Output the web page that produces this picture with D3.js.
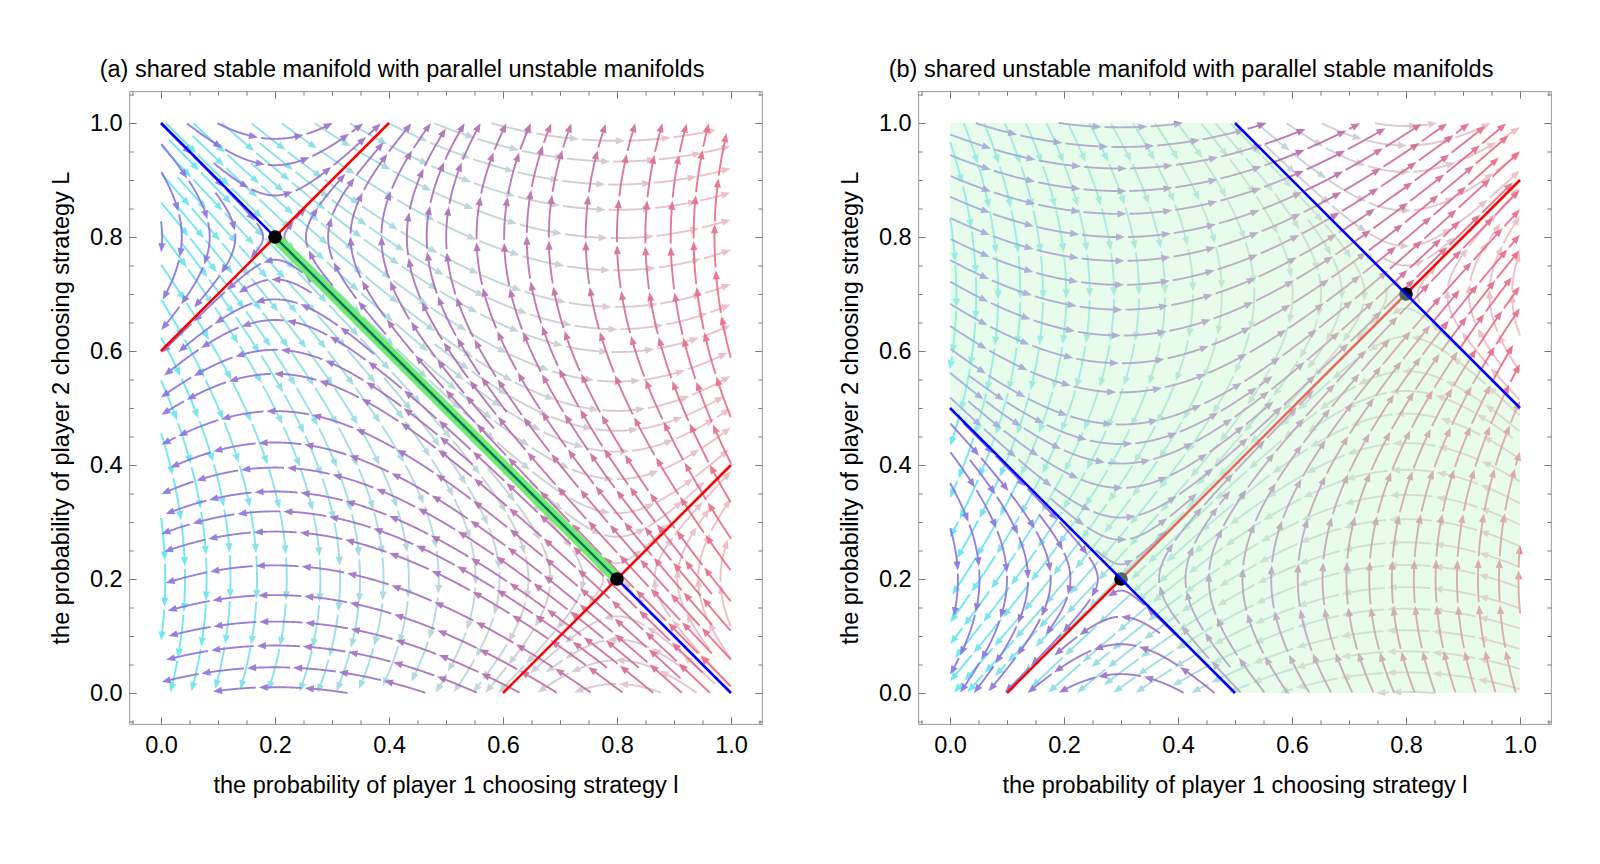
<!DOCTYPE html>
<html>
<head>
<meta charset="utf-8">
<title>stream manifolds</title>
<script src="https://cdn.jsdelivr.net/npm/d3@7"></script>
<style>
  body { margin: 0; background: #fff; }
  svg text { font-family: "Liberation Sans", Arial, Helvetica, sans-serif; }
</style>
</head>
<body>
<svg id="chart" width="1600" height="864"></svg>
<script>
// ---- values ----
const panelTitles = [
    '(a) shared stable manifold with parallel unstable manifolds',
    '(b) shared unstable manifold with parallel stable manifolds'
]
const xTitle = 'the probability of player 1 choosing strategy l'
const yTitle = 'the probability of player 2 choosing strategy L'
const majorTicks = [0, 0.2, 0.4, 0.6, 0.8, 1.0]

// eigen-directions at every saddle
const stableDirection = [1, -1]
const unstableDirection = [1, 1]

// panel (a)
const saddlesA = [[0.2, 0.8], [0.8, 0.2]]
const stableLineA = [[0, 1], [1, 0]]
const sharedSegmentA = [[0.2, 0.8], [0.8, 0.2]]
const unstableLinesA = [
    [[0, 0.6], [0.4, 1]],
    [[0.6, 0], [1, 0.4]]
]

// panel (b)
const saddlesB = [[0.3, 0.2], [0.8, 0.7]]
const unstableLineB = [[0.1, 0], [1, 0.9]]
const stableLinesB = [
    [[0, 0.5], [0.5, 0]],
    [[0.5, 1], [1, 0.5]]
]
const bandB = [[0, 0.5], [0.5, 0], [1, 0], [1, 0.5], [0.5, 1], [0, 1]]

// ---- style ----
const cyanRamp = ['#52e5ef', '#b2d2d6', '#efb4be']
const purpleRamp = ['#8474e6', '#a76db7', '#ef6a80']
const streamOpts = { dsep: 0.034, dtest: 0.017, step: 0.0015, stopR: 0.012, minLen: 0.02 }
const segLen = 46, gap = 3, headLen = 9, headHalf = 3.6
const fontSize = 23.5

const svg = d3.select('#chart')

function unit(v) {
    const m = Math.hypot(v[0], v[1])
    return [v[0] / m, v[1] / m]
}

// linear saddle: contracts along the stable direction, expands along the unstable one
function saddleField(p) {
    const s = unit(stableDirection), u = unit(unstableDirection)
    return (x, y) => {
        const dx = x - p[0], dy = y - p[1]
        const cs = dx * s[0] + dy * s[1]
        const cu = dx * u[0] + dy * u[1]
        return [-cs * s[0] + cu * u[0], -cs * s[1] + cu * u[1]]
    }
}

// evenly spaced streamlines (Jobard-Lefer style)
function evenStreamlines(f, saddle, o) {
    const cell = o.dsep
    const grid = new Map()
    const key = (i, j) => i * 4096 + j
    const lines = []
    const queue = []

    function add(p, id) {
        const k = key(Math.floor(p[0] / cell), Math.floor(p[1] / cell))
        if (!grid.has(k)) grid.set(k, [])
        grid.get(k).push([p[0], p[1], id])
    }
    function near(x, y, r, id) {
        const i0 = Math.floor(x / cell), j0 = Math.floor(y / cell)
        for (let i = i0 - 1; i <= i0 + 1; i++) {
            for (let j = j0 - 1; j <= j0 + 1; j++) {
                const b = grid.get(key(i, j))
                if (!b) continue
                for (const q of b) {
                    if (q[2] !== id && (q[0] - x) ** 2 + (q[1] - y) ** 2 < r * r) return true
                }
            }
        }
        return false
    }
    const inside = (x, y) => x >= 0 && x <= 1 && y >= 0 && y <= 1
    function dir(x, y, sign) {
        const v = f(x, y)
        const m = Math.hypot(v[0], v[1])
        if (m < 1e-9) return null
        return [sign * v[0] / m, sign * v[1] / m]
    }
    function trace(x, y, sign, id) {
        const pts = []
        const h = o.step
        for (let k = 0; k < 3000; k++) {
            const d1 = dir(x, y, sign)
            if (!d1) break
            const d2 = dir(x + d1[0] * h / 2, y + d1[1] * h / 2, sign)
            if (!d2) break
            const nx = x + d2[0] * h, ny = y + d2[1] * h
            if (!inside(nx, ny)) break
            if (Math.hypot(nx - saddle[0], ny - saddle[1]) < o.stopR) break
            if (near(nx, ny, o.dtest, id)) break
            pts.push([nx, ny])
            x = nx; y = ny
        }
        return pts
    }
    function trySeed(x, y) {
        if (!inside(x, y)) return
        if (Math.hypot(x - saddle[0], y - saddle[1]) < o.stopR * 2) return
        if (near(x, y, o.dsep, -1)) return
        const id = lines.length
        const fw = trace(x, y, 1, id)
        const bw = trace(x, y, -1, id)
        const pts = bw.reverse().concat([[x, y]], fw)
        if (pts.length * o.step < o.minLen) return
        lines.push(pts)
        pts.forEach((p, i) => { if (i % 2 === 0) add(p, id) })
        queue.push(pts)
    }
    function drain() {
        while (queue.length) {
            const L = queue.shift()
            for (let k = 0; k < L.length; k += 4) {
                const a = L[Math.max(k - 1, 0)], b = L[Math.min(k + 1, L.length - 1)]
                if (a === b) continue
                const t = unit([b[0] - a[0], b[1] - a[1]])
                const p = L[k]
                trySeed(p[0] - t[1] * o.dsep, p[1] + t[0] * o.dsep)
                trySeed(p[0] + t[1] * o.dsep, p[1] - t[0] * o.dsep)
            }
        }
    }
    trySeed(0.02, 0.5)
    drain()
    for (let x = o.dsep / 2; x < 1; x += o.dsep / 2) {
        for (let y = o.dsep / 2; y < 1; y += o.dsep / 2) {
            trySeed(x, y)
            drain()
        }
    }
    return lines
}

function drawStreams(g, sx, sy, saddle, ramp, opacity) {
    const lines = evenStreamlines(saddleField(saddle), saddle, streamOpts)
    const color = d3.scaleLinear().domain([0, 0.5, 1]).range(ramp).interpolate(d3.interpolateRgb)
    const pieces = []

    lines.forEach(line => {
        const pts = line.map(d => [sx(d[0]), sy(d[1])])
        const s = [0]
        for (let i = 1; i < pts.length; i++) {
            s.push(s[i - 1] + Math.hypot(pts[i][0] - pts[i - 1][0], pts[i][1] - pts[i - 1][1]))
        }
        const total = s[s.length - 1]
        const at = len => {
            let i = d3.bisectLeft(s, len)
            if (i <= 0) return pts[0]
            if (i >= pts.length) return pts[pts.length - 1]
            const t = (len - s[i - 1]) / (s[i] - s[i - 1] || 1)
            return [pts[i - 1][0] + t * (pts[i][0] - pts[i - 1][0]), pts[i - 1][1] + t * (pts[i][1] - pts[i - 1][1])]
        }
        let start = 0
        while (start < total) {
            const end = Math.min(start + segLen - gap, total)
            if (end - start < 12) break
            const lineEnd = end - headLen * 0.7
            const body = [at(start)]
            for (let i = 0; i < pts.length; i++) if (s[i] > start && s[i] < lineEnd) body.push(pts[i])
            body.push(at(lineEnd))
            const tip = at(end), back = at(end - headLen)
            const t = unit([tip[0] - back[0], tip[1] - back[1]])
            const head = [
                tip,
                [back[0] - t[1] * headHalf, back[1] + t[0] * headHalf],
                [back[0] + t[1] * headHalf, back[1] - t[0] * headHalf]
            ]
            const mid = at((start + end) / 2)
            pieces.push({ body, head, color: color(sx.invert(mid[0])) })
            start = end + gap
        }
    })

    const sg = g.append('g').attr('opacity', opacity)
    const line = d3.line()
    sg.selectAll('path.body')
        .data(pieces)
        .join('path')
        .attr('class', 'body')
        .attr('d', d => line(d.body))
        .attr('fill', 'none')
        .attr('stroke', d => d.color)
        .attr('stroke-width', 1.9)
    sg.selectAll('path.head')
        .data(pieces)
        .join('path')
        .attr('class', 'head')
        .attr('d', d => 'M' + d.head.map(p => p.join(',')).join('L') + 'Z')
        .attr('fill', d => d.color)
}

function drawSegment(g, sx, sy, seg, color, width, opacity) {
    g.append('line')
        .attr('x1', sx(seg[0][0])).attr('y1', sy(seg[0][1]))
        .attr('x2', sx(seg[1][0])).attr('y2', sy(seg[1][1]))
        .attr('stroke', color)
        .attr('stroke-width', width)
        .attr('stroke-opacity', opacity)
}

function drawDots(g, sx, sy, pts) {
    g.selectAll('circle.eq')
        .data(pts)
        .join('circle')
        .attr('class', 'eq')
        .attr('cx', d => sx(d[0]))
        .attr('cy', d => sy(d[1]))
        .attr('r', 6.8)
        .attr('fill', '#000')
}

function drawFrame(g, sx, sy, title) {
    const lo = -0.055, hi = 1.055
    const minorTicks = d3.range(-1, 22).map(i => +(i * 0.05).toFixed(2))
        .filter(v => !majorTicks.some(m => Math.abs(m - v) < 1e-6))
    const fx0 = sx(lo), fx1 = sx(hi), fy0 = sy(hi), fy1 = sy(lo)

    g.append('rect')
        .attr('x', fx0).attr('y', fy0)
        .attr('width', fx1 - fx0).attr('height', fy1 - fy0)
        .attr('fill', 'none')
        .attr('stroke', '#9a9a9a')
        .attr('stroke-width', 1)

    const tickSets = [
        [d3.axisBottom, sx, `translate(0,${fy1})`],
        [d3.axisTop, sx, `translate(0,${fy0})`],
        [d3.axisLeft, sy, `translate(${fx0},0)`],
        [d3.axisRight, sy, `translate(${fx1},0)`]
    ]
    tickSets.forEach(([axis, scale, tr]) => {
        [[majorTicks, -7], [minorTicks, -4]].forEach(([vals, size]) => {
            g.append('g')
                .attr('transform', tr)
                .call(axis(scale).tickValues(vals).tickSize(size).tickFormat(''))
                .call(a => a.select('.domain').remove())
                .selectAll('line').attr('stroke', '#7a7a7a')
        })
    })

    const fmt = d3.format('.1f')
    g.append('g')
        .attr('transform', `translate(0,${fy1})`)
        .call(d3.axisBottom(sx).tickValues(majorTicks).tickSize(0).tickPadding(12).tickFormat(fmt))
        .call(a => a.select('.domain').remove())
        .attr('font-size', fontSize).attr('font-family', null)
        .selectAll('text').attr('fill', '#000')
    g.append('g')
        .attr('transform', `translate(${fx0},0)`)
        .call(d3.axisLeft(sy).tickValues(majorTicks).tickSize(0).tickPadding(7).tickFormat(fmt))
        .call(a => a.select('.domain').remove())
        .attr('font-size', fontSize).attr('font-family', null)
        .selectAll('text').attr('fill', '#000')

    g.append('text')
        .attr('x', sx(0.5)).attr('y', 793)
        .attr('text-anchor', 'middle')
        .attr('font-size', fontSize)
        .text(xTitle)
    g.append('text')
        .attr('transform', `translate(${sx(0) - 92},${sy(0.5)}) rotate(-90)`)
        .attr('text-anchor', 'middle')
        .attr('font-size', fontSize)
        .text(yTitle)
    g.append('text')
        .attr('x', fx0 - 30).attr('y', 77)
        .attr('font-size', fontSize)
        .text(title)
}

// ---- panel (a) ----
{
    const sx = d3.scaleLinear().domain([0, 1]).range([161, 731])
    const sy = d3.scaleLinear().domain([0, 1]).range([693, 123])
    const g = svg.append('g')
    drawStreams(g, sx, sy, saddlesA[1], cyanRamp, 0.85)
    drawStreams(g, sx, sy, saddlesA[0], purpleRamp, 0.9)
    drawSegment(g, sx, sy, stableLineA, '#0000ff', 2.6, 1)
    // shared stable segment: light green band with the (tinted) manifold line in it
    drawSegment(g, sx, sy, sharedSegmentA, 'rgb(112,234,112)', 11, 1)
    drawSegment(g, sx, sy, sharedSegmentA, '#00705f', 2.4, 1)
    unstableLinesA.forEach(seg => drawSegment(g, sx, sy, seg, '#ff0000', 2.6, 1))
    drawDots(g, sx, sy, saddlesA)
    drawFrame(g, sx, sy, panelTitles[0])
}

// ---- panel (b) ----
{
    const sx = d3.scaleLinear().domain([0, 1]).range([950, 1520])
    const sy = d3.scaleLinear().domain([0, 1]).range([693, 123])
    const g = svg.append('g')
    drawStreams(g, sx, sy, saddlesB[1], cyanRamp, 0.85)
    drawStreams(g, sx, sy, saddlesB[0], purpleRamp, 0.9)
    drawSegment(g, sx, sy, unstableLineB, '#ff0000', 2.6, 1)
    drawDots(g, sx, sy, saddlesB)
    g.append('path')
        .datum(bandB)
        .attr('d', d3.line().x(d => sx(d[0])).y(d => sy(d[1])).curve(d3.curveLinearClosed))
        .attr('fill', 'rgb(200,247,207)')
        .attr('fill-opacity', 0.42)
    stableLinesB.forEach(seg => drawSegment(g, sx, sy, seg, '#0000ff', 2.6, 1))
    drawFrame(g, sx, sy, panelTitles[1])
}
</script>
</body>
</html>
